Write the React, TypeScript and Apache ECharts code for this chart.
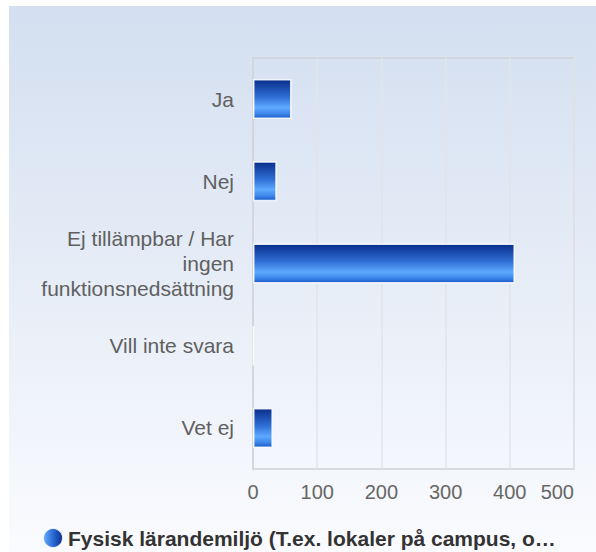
import React, { useEffect, useRef } from "react";
import * as echarts from "echarts";

const categories = [
  "Ja",
  "Nej",
  "Ej tillämpbar / Har\ningen\nfunktionsnedsättning",
  "Vill inte svara",
  "Vet ej",
];
const values = [60, 37, 408, 1, 31];
const seriesName = "Fysisk lärandemiljö (T.ex. lokaler på campus, o…";
const xMin = 0;
const xMax = 500;
const xInterval = 100;

export default function App() {
  const ref = useRef<HTMLDivElement>(null);
  useEffect(() => {
    if (!ref.current) return;
    const chart = echarts.init(ref.current, null, { renderer: "svg" });
    const barGradient = new echarts.graphic.LinearGradient(0, 0, 0, 1, [
      { offset: 0, color: "#0a2e8a" },
      { offset: 0.45, color: "#2f6fd6" },
      { offset: 0.72, color: "#5ea9ff" },
      { offset: 0.88, color: "#3d86ea" },
      { offset: 1, color: "#1a5acb" },
    ]);
    const legendGradient = new echarts.graphic.LinearGradient(0, 0, 1, 0, [
      { offset: 0, color: "#6fb3ff" },
      { offset: 0.5, color: "#2a6ad6" },
      { offset: 1, color: "#0a2e8a" },
    ]);
    const font = "Liberation Sans, Arial, sans-serif";
    chart.setOption({
      animation: false,
      textStyle: { fontFamily: font },
      graphic: [
        {
          type: "rect",
          z: -10,
          silent: true,
          shape: { x: 9, y: 6, width: 587, height: 546 },
          style: {
            fill: new echarts.graphic.LinearGradient(0, 0, 0, 1, [
              { offset: 0, color: "#d3dff0" },
              { offset: 1, color: "#fafbfe" },
            ]),
          },
        },
      ],
      grid: {
        left: 253,
        right: 22,
        top: 58,
        bottom: 83,
        show: true,
        borderColor: "#cfd2d8",
        borderWidth: 1.5,
        backgroundColor: "transparent",
      },
      legend: {
        bottom: 3,
        left: 42,
        padding: 0,
        icon: "circle",
        itemWidth: 20,
        itemHeight: 20,
        itemGap: 8,
        textStyle: {
          fontSize: 21,
          fontWeight: "bold",
          color: "#333333",
          fontFamily: font,
        },
        data: [{ name: seriesName, itemStyle: { color: legendGradient } }],
      },
      xAxis: {
        type: "value",
        min: xMin,
        max: xMax,
        interval: xInterval,
        axisLine: { show: false },
        axisTick: { show: false },
        splitLine: { show: true, lineStyle: { color: "#e2e4e8", width: 1.5 } },
        axisLabel: {
          fontSize: 20,
          color: "#666666",
          margin: 13,
          alignMaxLabel: "right",
        },
      },
      yAxis: {
        type: "category",
        inverse: true,
        data: categories,
        axisLine: { show: true, lineStyle: { color: "#cfd2d8", width: 1.5 } },
        axisTick: { show: false },
        axisLabel: {
          fontSize: 21,
          color: "#606060",
          margin: 19,
          lineHeight: 25,
          align: "right",
        },
      },
      series: [
        {
          name: seriesName,
          type: "bar",
          data: values,
          barWidth: 40,
          itemStyle: {
            color: barGradient,
            borderColor: "rgba(255,255,255,0.85)",
            borderWidth: 1.5,
          },
        },
      ],
    });
    return () => chart.dispose();
  }, []);
  return (
    <div
      ref={ref}
      style={{ position: "absolute", left: 0, top: 0, width: 596, height: 552 }}
    />
  );
}
